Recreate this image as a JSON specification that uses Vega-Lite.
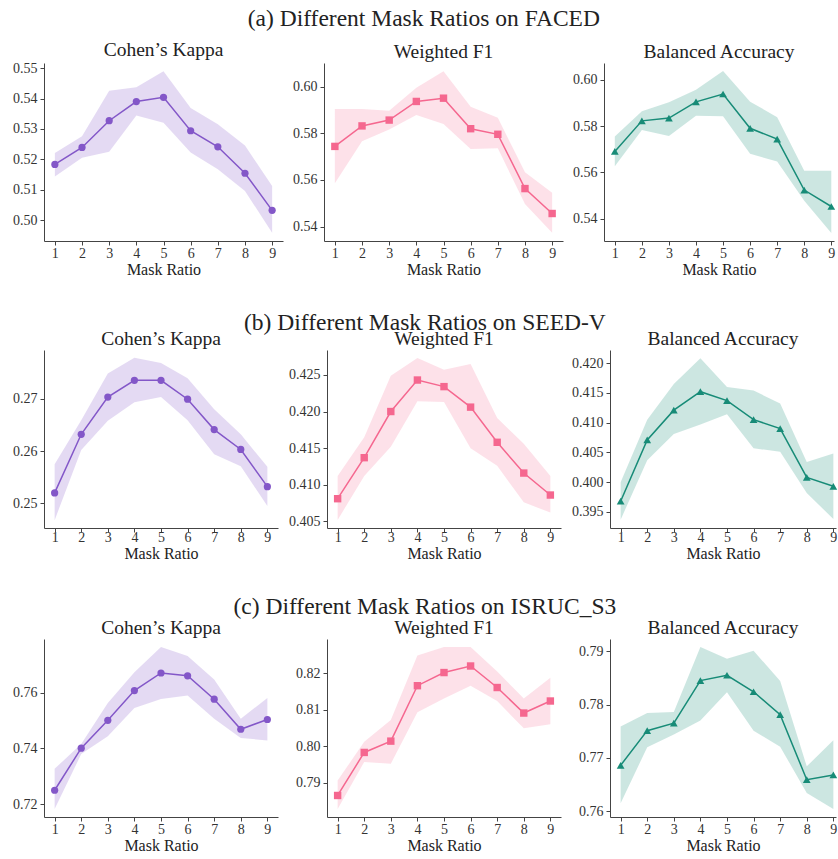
{
  "$schema": "https://vega.github.io/schema/vega-lite/v6.json",
  "padding": {"left": 12, "top": 7, "right": 0, "bottom": 0},
  "autosize": {"type": "pad"},
  "config": {
    "font": "Liberation Serif",
    "view": {"stroke": null},
    "axis": {
      "grid": false,
      "domainColor": "#444444",
      "tickColor": "#444444",
      "labelColor": "#333333",
      "titleColor": "#222222",
      "labelFont": "Liberation Serif",
      "titleFont": "Liberation Serif",
      "labelFontSize": 14,
      "titleFontSize": 16,
      "titleFontWeight": "normal",
      "tickSize": 4,
      "titlePadding": 1,
      "domainWidth": 1
    },
    "axisX": {"labelPadding": 1},
    "axisY": {"labelPadding": 3},
    "title": {"font": "Liberation Serif", "fontSize": 19.5, "fontWeight": "normal", "color": "#222222", "anchor": "middle", "baseline": "alphabetic", "offset": 1}
  },
  "datasets": {
    "d": [
      {"set": "FACED", "metric": "kappa", "r": 1, "m": 0.5183, "lo": 0.5143, "hi": 0.5221},
      {"set": "FACED", "metric": "kappa", "r": 2, "m": 0.5239, "lo": 0.5205, "hi": 0.5276},
      {"set": "FACED", "metric": "kappa", "r": 3, "m": 0.5327, "lo": 0.5225, "hi": 0.5426},
      {"set": "FACED", "metric": "kappa", "r": 4, "m": 0.5390, "lo": 0.5344, "hi": 0.5437},
      {"set": "FACED", "metric": "kappa", "r": 5, "m": 0.5404, "lo": 0.5320, "hi": 0.5490},
      {"set": "FACED", "metric": "kappa", "r": 6, "m": 0.5294, "lo": 0.5222, "hi": 0.5369},
      {"set": "FACED", "metric": "kappa", "r": 7, "m": 0.5241, "lo": 0.5167, "hi": 0.5315},
      {"set": "FACED", "metric": "kappa", "r": 8, "m": 0.5154, "lo": 0.5096, "hi": 0.5245},
      {"set": "FACED", "metric": "kappa", "r": 9, "m": 0.5032, "lo": 0.4958, "hi": 0.5112},
      {"set": "FACED", "metric": "f1", "r": 1, "m": 0.5744, "lo": 0.5586, "hi": 0.5905},
      {"set": "FACED", "metric": "f1", "r": 2, "m": 0.5832, "lo": 0.5766, "hi": 0.5905},
      {"set": "FACED", "metric": "f1", "r": 3, "m": 0.5857, "lo": 0.5817, "hi": 0.5897},
      {"set": "FACED", "metric": "f1", "r": 4, "m": 0.5937, "lo": 0.5879, "hi": 0.5996},
      {"set": "FACED", "metric": "f1", "r": 5, "m": 0.5951, "lo": 0.5840, "hi": 0.6067},
      {"set": "FACED", "metric": "f1", "r": 6, "m": 0.5820, "lo": 0.5733, "hi": 0.5914},
      {"set": "FACED", "metric": "f1", "r": 7, "m": 0.5796, "lo": 0.5736, "hi": 0.5867},
      {"set": "FACED", "metric": "f1", "r": 8, "m": 0.5563, "lo": 0.5497, "hi": 0.5633},
      {"set": "FACED", "metric": "f1", "r": 9, "m": 0.5456, "lo": 0.5373, "hi": 0.5545},
      {"set": "FACED", "metric": "bacc", "r": 1, "m": 0.5691, "lo": 0.5627, "hi": 0.5755},
      {"set": "FACED", "metric": "bacc", "r": 2, "m": 0.5823, "lo": 0.5784, "hi": 0.5865},
      {"set": "FACED", "metric": "bacc", "r": 3, "m": 0.5835, "lo": 0.5758, "hi": 0.5903},
      {"set": "FACED", "metric": "bacc", "r": 4, "m": 0.5905, "lo": 0.5845, "hi": 0.5957},
      {"set": "FACED", "metric": "bacc", "r": 5, "m": 0.5939, "lo": 0.5843, "hi": 0.6038},
      {"set": "FACED", "metric": "bacc", "r": 6, "m": 0.5791, "lo": 0.5681, "hi": 0.5906},
      {"set": "FACED", "metric": "bacc", "r": 7, "m": 0.5744, "lo": 0.5647, "hi": 0.5839},
      {"set": "FACED", "metric": "bacc", "r": 8, "m": 0.5524, "lo": 0.5478, "hi": 0.5607},
      {"set": "FACED", "metric": "bacc", "r": 9, "m": 0.5453, "lo": 0.5339, "hi": 0.5607},
      {"set": "SEED-V", "metric": "kappa", "r": 1, "m": 0.2520, "lo": 0.2468, "hi": 0.2575},
      {"set": "SEED-V", "metric": "kappa", "r": 2, "m": 0.2632, "lo": 0.2602, "hi": 0.2659},
      {"set": "SEED-V", "metric": "kappa", "r": 3, "m": 0.2703, "lo": 0.2658, "hi": 0.2748},
      {"set": "SEED-V", "metric": "kappa", "r": 4, "m": 0.2735, "lo": 0.2693, "hi": 0.2778},
      {"set": "SEED-V", "metric": "kappa", "r": 5, "m": 0.2735, "lo": 0.2703, "hi": 0.2768},
      {"set": "SEED-V", "metric": "kappa", "r": 6, "m": 0.2699, "lo": 0.2659, "hi": 0.2739},
      {"set": "SEED-V", "metric": "kappa", "r": 7, "m": 0.2641, "lo": 0.2594, "hi": 0.2680},
      {"set": "SEED-V", "metric": "kappa", "r": 8, "m": 0.2603, "lo": 0.2571, "hi": 0.2632},
      {"set": "SEED-V", "metric": "kappa", "r": 9, "m": 0.2532, "lo": 0.2495, "hi": 0.2570},
      {"set": "SEED-V", "metric": "f1", "r": 1, "m": 0.4081, "lo": 0.4052, "hi": 0.4112},
      {"set": "SEED-V", "metric": "f1", "r": 2, "m": 0.4137, "lo": 0.4112, "hi": 0.4165},
      {"set": "SEED-V", "metric": "f1", "r": 3, "m": 0.4200, "lo": 0.4152, "hi": 0.4249},
      {"set": "SEED-V", "metric": "f1", "r": 4, "m": 0.4243, "lo": 0.4214, "hi": 0.4273},
      {"set": "SEED-V", "metric": "f1", "r": 5, "m": 0.4234, "lo": 0.4213, "hi": 0.4257},
      {"set": "SEED-V", "metric": "f1", "r": 6, "m": 0.4206, "lo": 0.4150, "hi": 0.4265},
      {"set": "SEED-V", "metric": "f1", "r": 7, "m": 0.4158, "lo": 0.4126, "hi": 0.4191},
      {"set": "SEED-V", "metric": "f1", "r": 8, "m": 0.4116, "lo": 0.4076, "hi": 0.4156},
      {"set": "SEED-V", "metric": "f1", "r": 9, "m": 0.4086, "lo": 0.4062, "hi": 0.4112},
      {"set": "SEED-V", "metric": "bacc", "r": 1, "m": 0.3968, "lo": 0.3937, "hi": 0.4000},
      {"set": "SEED-V", "metric": "bacc", "r": 2, "m": 0.4071, "lo": 0.4037, "hi": 0.4105},
      {"set": "SEED-V", "metric": "bacc", "r": 3, "m": 0.4121, "lo": 0.4081, "hi": 0.4165},
      {"set": "SEED-V", "metric": "bacc", "r": 4, "m": 0.4152, "lo": 0.4097, "hi": 0.4208},
      {"set": "SEED-V", "metric": "bacc", "r": 5, "m": 0.4137, "lo": 0.4114, "hi": 0.4160},
      {"set": "SEED-V", "metric": "bacc", "r": 6, "m": 0.4105, "lo": 0.4057, "hi": 0.4154},
      {"set": "SEED-V", "metric": "bacc", "r": 7, "m": 0.4090, "lo": 0.4051, "hi": 0.4132},
      {"set": "SEED-V", "metric": "bacc", "r": 8, "m": 0.4008, "lo": 0.3982, "hi": 0.4034},
      {"set": "SEED-V", "metric": "bacc", "r": 9, "m": 0.3993, "lo": 0.3938, "hi": 0.4048},
      {"set": "ISRUC_S3", "metric": "kappa", "r": 1, "m": 0.7250, "lo": 0.7183, "hi": 0.7327},
      {"set": "ISRUC_S3", "metric": "kappa", "r": 2, "m": 0.7401, "lo": 0.7380, "hi": 0.7416},
      {"set": "ISRUC_S3", "metric": "kappa", "r": 3, "m": 0.7501, "lo": 0.7444, "hi": 0.7563},
      {"set": "ISRUC_S3", "metric": "kappa", "r": 4, "m": 0.7608, "lo": 0.7545, "hi": 0.7674},
      {"set": "ISRUC_S3", "metric": "kappa", "r": 5, "m": 0.7671, "lo": 0.7578, "hi": 0.7764},
      {"set": "ISRUC_S3", "metric": "kappa", "r": 6, "m": 0.7661, "lo": 0.7590, "hi": 0.7732},
      {"set": "ISRUC_S3", "metric": "kappa", "r": 7, "m": 0.7577, "lo": 0.7507, "hi": 0.7648},
      {"set": "ISRUC_S3", "metric": "kappa", "r": 8, "m": 0.7469, "lo": 0.7438, "hi": 0.7507},
      {"set": "ISRUC_S3", "metric": "kappa", "r": 9, "m": 0.7504, "lo": 0.7429, "hi": 0.7581},
      {"set": "ISRUC_S3", "metric": "f1", "r": 1, "m": 0.7865, "lo": 0.7828, "hi": 0.7906},
      {"set": "ISRUC_S3", "metric": "f1", "r": 2, "m": 0.7983, "lo": 0.7957, "hi": 0.8012},
      {"set": "ISRUC_S3", "metric": "f1", "r": 3, "m": 0.8014, "lo": 0.7952, "hi": 0.8072},
      {"set": "ISRUC_S3", "metric": "f1", "r": 4, "m": 0.8166, "lo": 0.8093, "hi": 0.8249},
      {"set": "ISRUC_S3", "metric": "f1", "r": 5, "m": 0.8202, "lo": 0.8131, "hi": 0.8272},
      {"set": "ISRUC_S3", "metric": "f1", "r": 6, "m": 0.8220, "lo": 0.8166, "hi": 0.8272},
      {"set": "ISRUC_S3", "metric": "f1", "r": 7, "m": 0.8161, "lo": 0.8124, "hi": 0.8205},
      {"set": "ISRUC_S3", "metric": "f1", "r": 8, "m": 0.8091, "lo": 0.8049, "hi": 0.8131},
      {"set": "ISRUC_S3", "metric": "f1", "r": 9, "m": 0.8124, "lo": 0.8060, "hi": 0.8188},
      {"set": "ISRUC_S3", "metric": "bacc", "r": 1, "m": 0.7686, "lo": 0.7615, "hi": 0.7759},
      {"set": "ISRUC_S3", "metric": "bacc", "r": 2, "m": 0.7751, "lo": 0.7720, "hi": 0.7784},
      {"set": "ISRUC_S3", "metric": "bacc", "r": 3, "m": 0.7765, "lo": 0.7744, "hi": 0.7786},
      {"set": "ISRUC_S3", "metric": "bacc", "r": 4, "m": 0.7845, "lo": 0.7770, "hi": 0.7908},
      {"set": "ISRUC_S3", "metric": "bacc", "r": 5, "m": 0.7855, "lo": 0.7823, "hi": 0.7886},
      {"set": "ISRUC_S3", "metric": "bacc", "r": 6, "m": 0.7824, "lo": 0.7751, "hi": 0.7901},
      {"set": "ISRUC_S3", "metric": "bacc", "r": 7, "m": 0.7781, "lo": 0.7721, "hi": 0.7844},
      {"set": "ISRUC_S3", "metric": "bacc", "r": 8, "m": 0.7659, "lo": 0.7634, "hi": 0.7684},
      {"set": "ISRUC_S3", "metric": "bacc", "r": 9, "m": 0.7668, "lo": 0.7604, "hi": 0.7733}
    ]
  },
  "data": {"name": "d"},
  "spacing": 34,
  "vconcat": [
    {
      "title": {"text": "(a) Different Mask Ratios on FACED", "fontSize": 23.5, "offset": 9},
      "bounds": "flush",
      "spacing": 41,
      "hconcat": [
        {
          "width": 239, "height": 178, "title": "Cohen’s Kappa",
          "transform": [{"filter": "datum.set === 'FACED' && datum.metric === 'kappa'"}],
          "encoding": {
            "x": {"field": "r", "type": "quantitative", "scale": {"domain": [0.6, 9.4], "nice": false, "zero": false}, "axis": {"values": [1, 2, 3, 4, 5, 6, 7, 8, 9], "title": "Mask Ratio"}},
            "y": {"field": "m", "type": "quantitative", "scale": {"domain": [0.4931, 0.5517], "nice": false, "zero": false}, "axis": {"title": null, "values": [0.5, 0.51, 0.52, 0.53, 0.54, 0.55], "format": ".2f"}}
          },
          "layer": [
            {"mark": {"type": "area", "color": "#8357c8", "opacity": 0.22}, "encoding": {"y": {"field": "lo", "type": "quantitative", "scale": {"domain": [0.4931, 0.5517], "nice": false, "zero": false}, "axis": {"title": null, "values": [0.5, 0.51, 0.52, 0.53, 0.54, 0.55], "format": ".2f"}}, "y2": {"field": "hi"}}},
            {"mark": {"type": "line", "color": "#8357c8", "strokeWidth": 1.5}, "encoding": {}},
            {"mark": {"type": "point", "shape": "circle", "filled": true, "size": 52, "color": "#8357c8", "opacity": 1}}
          ]
        },
        {
          "width": 239, "height": 178, "title": "Weighted F1",
          "transform": [{"filter": "datum.set === 'FACED' && datum.metric === 'f1'"}],
          "encoding": {
            "x": {"field": "r", "type": "quantitative", "scale": {"domain": [0.6, 9.4], "nice": false, "zero": false}, "axis": {"values": [1, 2, 3, 4, 5, 6, 7, 8, 9], "title": "Mask Ratio"}},
            "y": {"field": "m", "type": "quantitative", "scale": {"domain": [0.5338, 0.6102], "nice": false, "zero": false}, "axis": {"title": null, "values": [0.54, 0.56, 0.58, 0.6], "format": ".2f"}}
          },
          "layer": [
            {"mark": {"type": "area", "color": "#f5678f", "opacity": 0.2}, "encoding": {"y": {"field": "lo", "type": "quantitative", "scale": {"domain": [0.5338, 0.6102], "nice": false, "zero": false}, "axis": {"title": null, "values": [0.54, 0.56, 0.58, 0.6], "format": ".2f"}}, "y2": {"field": "hi"}}},
            {"mark": {"type": "line", "color": "#f5678f", "strokeWidth": 1.5}, "encoding": {}},
            {"mark": {"type": "point", "shape": "square", "filled": true, "size": 55, "color": "#f5678f", "opacity": 1}}
          ]
        },
        {
          "width": 230, "height": 178, "title": "Balanced Accuracy",
          "transform": [{"filter": "datum.set === 'FACED' && datum.metric === 'bacc'"}],
          "encoding": {
            "x": {"field": "r", "type": "quantitative", "scale": {"domain": [0.6, 9.1], "nice": false, "zero": false}, "axis": {"values": [1, 2, 3, 4, 5, 6, 7, 8, 9], "title": "Mask Ratio"}},
            "y": {"field": "m", "type": "quantitative", "scale": {"domain": [0.5304, 0.6073], "nice": false, "zero": false}, "axis": {"title": null, "values": [0.54, 0.56, 0.58, 0.6], "format": ".2f"}}
          },
          "layer": [
            {"mark": {"type": "area", "color": "#178b77", "opacity": 0.22}, "encoding": {"y": {"field": "lo", "type": "quantitative", "scale": {"domain": [0.5304, 0.6073], "nice": false, "zero": false}, "axis": {"title": null, "values": [0.54, 0.56, 0.58, 0.6], "format": ".2f"}}, "y2": {"field": "hi"}}},
            {"mark": {"type": "line", "color": "#178b77", "strokeWidth": 1.5}, "encoding": {}},
            {"mark": {"type": "point", "shape": "triangle-up", "filled": true, "size": 60, "color": "#178b77", "opacity": 1}}
          ]
        }
      ]
    },
    {
      "title": {"text": "(b) Different Mask Ratios on SEED-V", "fontSize": 23.5, "offset": -6},
      "bounds": "flush",
      "spacing": 49,
      "hconcat": [
        {
          "width": 234, "height": 178, "title": "Cohen’s Kappa",
          "transform": [{"filter": "datum.set === 'SEED-V' && datum.metric === 'kappa'"}],
          "encoding": {
            "x": {"field": "r", "type": "quantitative", "scale": {"domain": [0.6, 9.4], "nice": false, "zero": false}, "axis": {"values": [1, 2, 3, 4, 5, 6, 7, 8, 9], "title": "Mask Ratio", "labelPadding": -2}},
            "y": {"field": "m", "type": "quantitative", "scale": {"domain": [0.2453, 0.2793], "nice": false, "zero": false}, "axis": {"title": null, "values": [0.25, 0.26, 0.27], "format": ".2f"}}
          },
          "layer": [
            {"mark": {"type": "area", "color": "#8357c8", "opacity": 0.22}, "encoding": {"y": {"field": "lo", "type": "quantitative", "scale": {"domain": [0.2453, 0.2793], "nice": false, "zero": false}, "axis": {"title": null, "values": [0.25, 0.26, 0.27], "format": ".2f"}}, "y2": {"field": "hi"}}},
            {"mark": {"type": "line", "color": "#8357c8", "strokeWidth": 1.5}, "encoding": {}},
            {"mark": {"type": "point", "shape": "circle", "filled": true, "size": 52, "color": "#8357c8", "opacity": 1}}
          ]
        },
        {
          "width": 234, "height": 178, "title": "Weighted F1",
          "transform": [{"filter": "datum.set === 'SEED-V' && datum.metric === 'f1'"}],
          "encoding": {
            "x": {"field": "r", "type": "quantitative", "scale": {"domain": [0.6, 9.4], "nice": false, "zero": false}, "axis": {"values": [1, 2, 3, 4, 5, 6, 7, 8, 9], "title": "Mask Ratio", "labelPadding": -2}},
            "y": {"field": "m", "type": "quantitative", "scale": {"domain": [0.4041, 0.4284], "nice": false, "zero": false}, "axis": {"title": null, "values": [0.405, 0.41, 0.415, 0.42, 0.425], "format": ".3f"}}
          },
          "layer": [
            {"mark": {"type": "area", "color": "#f5678f", "opacity": 0.2}, "encoding": {"y": {"field": "lo", "type": "quantitative", "scale": {"domain": [0.4041, 0.4284], "nice": false, "zero": false}, "axis": {"title": null, "values": [0.405, 0.41, 0.415, 0.42, 0.425], "format": ".3f"}}, "y2": {"field": "hi"}}},
            {"mark": {"type": "line", "color": "#f5678f", "strokeWidth": 1.5}, "encoding": {}},
            {"mark": {"type": "point", "shape": "square", "filled": true, "size": 55, "color": "#f5678f", "opacity": 1}}
          ]
        },
        {
          "width": 226, "height": 178, "title": "Balanced Accuracy",
          "transform": [{"filter": "datum.set === 'SEED-V' && datum.metric === 'bacc'"}],
          "encoding": {
            "x": {"field": "r", "type": "quantitative", "scale": {"domain": [0.6, 9.1], "nice": false, "zero": false}, "axis": {"values": [1, 2, 3, 4, 5, 6, 7, 8, 9], "title": "Mask Ratio", "labelPadding": -2}},
            "y": {"field": "m", "type": "quantitative", "scale": {"domain": [0.3923, 0.4222], "nice": false, "zero": false}, "axis": {"title": null, "values": [0.395, 0.4, 0.405, 0.41, 0.415, 0.42], "format": ".3f"}}
          },
          "layer": [
            {"mark": {"type": "area", "color": "#178b77", "opacity": 0.22}, "encoding": {"y": {"field": "lo", "type": "quantitative", "scale": {"domain": [0.3923, 0.4222], "nice": false, "zero": false}, "axis": {"title": null, "values": [0.395, 0.4, 0.405, 0.41, 0.415, 0.42], "format": ".3f"}}, "y2": {"field": "hi"}}},
            {"mark": {"type": "line", "color": "#178b77", "strokeWidth": 1.5}, "encoding": {}},
            {"mark": {"type": "point", "shape": "triangle-up", "filled": true, "size": 60, "color": "#178b77", "opacity": 1}}
          ]
        }
      ]
    },
    {
      "title": {"text": "(c) Different Mask Ratios on ISRUC_S3", "fontSize": 23.5, "offset": -1},
      "bounds": "flush",
      "spacing": 49,
      "hconcat": [
        {
          "width": 234, "height": 178, "title": "Cohen’s Kappa",
          "transform": [{"filter": "datum.set === 'ISRUC_S3' && datum.metric === 'kappa'"}],
          "encoding": {
            "x": {"field": "r", "type": "quantitative", "scale": {"domain": [0.6, 9.4], "nice": false, "zero": false}, "axis": {"values": [1, 2, 3, 4, 5, 6, 7, 8, 9], "title": "Mask Ratio"}},
            "y": {"field": "m", "type": "quantitative", "scale": {"domain": [0.7154, 0.7793], "nice": false, "zero": false}, "axis": {"title": null, "values": [0.72, 0.74, 0.76], "format": ".2f"}}
          },
          "layer": [
            {"mark": {"type": "area", "color": "#8357c8", "opacity": 0.22}, "encoding": {"y": {"field": "lo", "type": "quantitative", "scale": {"domain": [0.7154, 0.7793], "nice": false, "zero": false}, "axis": {"title": null, "values": [0.72, 0.74, 0.76], "format": ".2f"}}, "y2": {"field": "hi"}}},
            {"mark": {"type": "line", "color": "#8357c8", "strokeWidth": 1.5}, "encoding": {}},
            {"mark": {"type": "point", "shape": "circle", "filled": true, "size": 52, "color": "#8357c8", "opacity": 1}}
          ]
        },
        {
          "width": 234, "height": 178, "title": "Weighted F1",
          "transform": [{"filter": "datum.set === 'ISRUC_S3' && datum.metric === 'f1'"}],
          "encoding": {
            "x": {"field": "r", "type": "quantitative", "scale": {"domain": [0.6, 9.4], "nice": false, "zero": false}, "axis": {"values": [1, 2, 3, 4, 5, 6, 7, 8, 9], "title": "Mask Ratio"}},
            "y": {"field": "m", "type": "quantitative", "scale": {"domain": [0.7806, 0.8294], "nice": false, "zero": false}, "axis": {"title": null, "values": [0.79, 0.8, 0.81, 0.82], "format": ".2f"}}
          },
          "layer": [
            {"mark": {"type": "area", "color": "#f5678f", "opacity": 0.2}, "encoding": {"y": {"field": "lo", "type": "quantitative", "scale": {"domain": [0.7806, 0.8294], "nice": false, "zero": false}, "axis": {"title": null, "values": [0.79, 0.8, 0.81, 0.82], "format": ".2f"}}, "y2": {"field": "hi"}}},
            {"mark": {"type": "line", "color": "#f5678f", "strokeWidth": 1.5}, "encoding": {}},
            {"mark": {"type": "point", "shape": "square", "filled": true, "size": 55, "color": "#f5678f", "opacity": 1}}
          ]
        },
        {
          "width": 226, "height": 178, "title": "Balanced Accuracy",
          "transform": [{"filter": "datum.set === 'ISRUC_S3' && datum.metric === 'bacc'"}],
          "encoding": {
            "x": {"field": "r", "type": "quantitative", "scale": {"domain": [0.6, 9.1], "nice": false, "zero": false}, "axis": {"values": [1, 2, 3, 4, 5, 6, 7, 8, 9], "title": "Mask Ratio"}},
            "y": {"field": "m", "type": "quantitative", "scale": {"domain": [0.7589, 0.7923], "nice": false, "zero": false}, "axis": {"title": null, "values": [0.76, 0.77, 0.78, 0.79], "format": ".2f"}}
          },
          "layer": [
            {"mark": {"type": "area", "color": "#178b77", "opacity": 0.22}, "encoding": {"y": {"field": "lo", "type": "quantitative", "scale": {"domain": [0.7589, 0.7923], "nice": false, "zero": false}, "axis": {"title": null, "values": [0.76, 0.77, 0.78, 0.79], "format": ".2f"}}, "y2": {"field": "hi"}}},
            {"mark": {"type": "line", "color": "#178b77", "strokeWidth": 1.5}, "encoding": {}},
            {"mark": {"type": "point", "shape": "triangle-up", "filled": true, "size": 60, "color": "#178b77", "opacity": 1}}
          ]
        }
      ]
    }
  ]
}
